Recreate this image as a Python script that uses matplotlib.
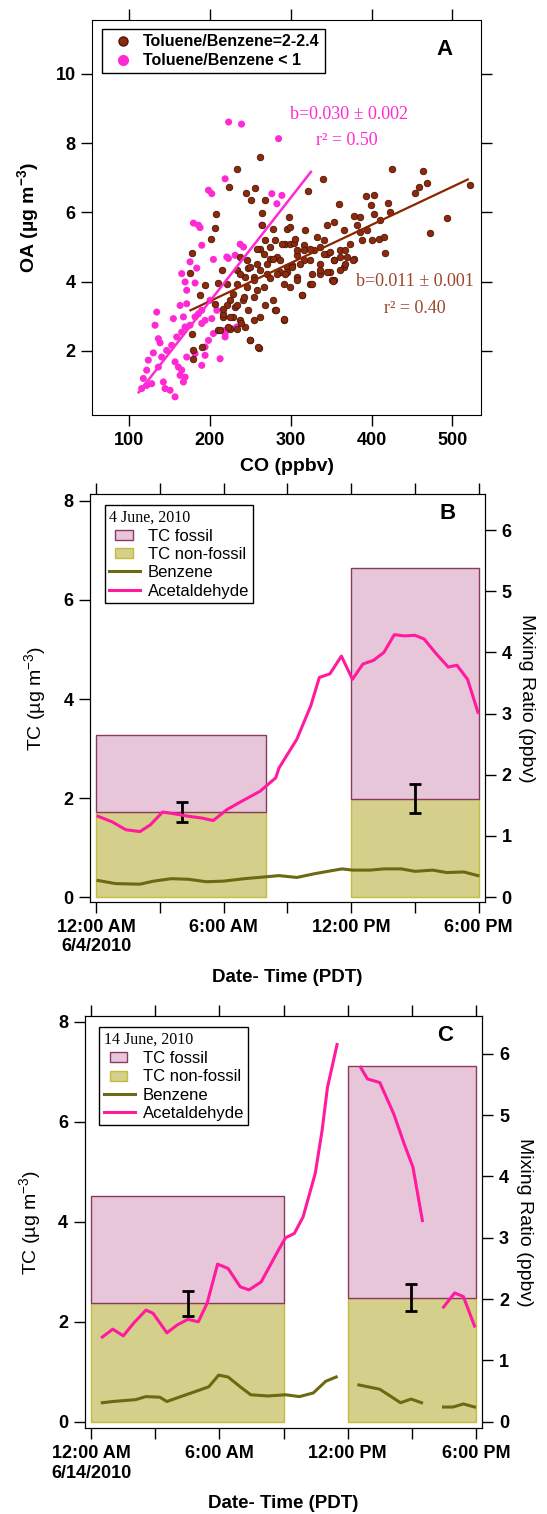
import matplotlib
matplotlib.use("Agg")
import matplotlib.pyplot as plt
from matplotlib.lines import Line2D
from matplotlib.patches import Patch, Rectangle
from matplotlib.legend_handler import HandlerPatch

plt.rcParams['font.family'] = ['Liberation Sans', 'DejaVu Sans']
plt.rcParams['mathtext.fontset'] = 'custom'
plt.rcParams['mathtext.rm'] = 'Liberation Sans'
plt.rcParams['mathtext.bf'] = 'Liberation Sans:bold'

nan = float('nan')

# ---- Panel A: OA vs CO ----
brown_co = [175.5, 194.1, 188.0, 210.6, 177.6, 179.6, 179.6, 190.0, 210.6, 206.5, 225.1, 216.8,
            262.2, 234.2, 224.3, 244.9, 256.0, 250.7, 267.6, 207.7, 264.3, 206.5, 201.1, 177.6,
            264.3, 278.7, 280.8, 295.3, 268.4, 262.2, 274.6, 282.9, 258.1, 247.8, 233.3, 243.7,
            254.0, 270.5, 287.0, 297.3, 293.2, 295.3,
            214.8, 221.0, 225.1, 216.8, 229.2, 237.5, 233.3, 223.0, 249.8, 260.2, 278.7, 280.8,
            291.1, 268.4, 254.0, 245.7, 237.5, 249.8, 262.2, 270.5, 278.7, 266.4, 258.1, 274.6,
            287.0, 295.3, 291.1, 301.4, 307.6, 313.8, 299.4, 324.1, 326.2, 315.9, 336.5, 336.5,
            344.8, 353.0, 361.3, 365.4, 353.0, 307.6, 299.4, 315.9, 289.1, 328.3, 348.9, 369.6,
            237.5, 245.7, 254.0, 258.1, 266.4, 241.6, 262.2, 247.8, 229.2, 233.3, 274.6, 282.9,
            293.2, 243.7, 254.0, 231.3, 221.0,
            425.3, 463.3, 339.4, 468.6, 458.3, 454.2, 320.8, 393.5, 402.6, 359.2, 419.9, 399.3,
            377.8, 386.1, 402.6, 423.2, 410.0, 318.0, 344.8, 353.0, 365.4, 381.9, 386.1, 388.1,
            400.5, 408.8, 415.0, 417.0, 493.4, 471.9, 303.5, 307.6, 315.9, 324.1, 336.5, 340.7,
            348.9, 353.0, 361.3, 367.5, 373.7, 377.8, 340.7, 332.4, 394.3, 324.1, 311.8, 301.4,
            336.5, 344.8, 351.0, 326.2, 307.6, 361.3, 367.5, 299.4, 305.6,
            521.3, 352.8, 314.0, 291.1, 259.1, 249.2, 377.5, 281.6, 212.4, 225.4, 216.7, 234.0,
            242.7, 238.3]
brown_oa = [4.25, 3.89, 3.60, 3.96, 2.50, 2.01, 1.77, 2.11, 2.59, 3.36, 2.64, 2.98,
            7.60, 7.26, 6.73, 6.57, 6.69, 6.37, 6.37, 5.96, 5.99, 5.56, 5.24, 4.83,
            5.63, 5.53, 5.19, 5.53, 5.21, 4.95, 4.66, 4.71, 4.52, 4.38, 4.33, 4.13,
            4.13, 4.23, 4.28, 5.87, 5.10, 4.42,
            4.33, 3.94, 3.46, 3.07, 2.98, 2.88, 2.64, 2.69, 2.30, 2.09, 3.46, 3.17,
            2.90, 3.32, 3.56, 3.84, 4.23, 4.42, 4.33, 4.52, 4.66, 4.81, 4.95, 5.00,
            4.62, 4.28, 3.94, 4.47, 4.13, 3.60, 3.85, 3.94, 4.23, 4.62, 4.52, 4.23,
            4.81, 4.62, 4.90, 4.42, 4.04, 4.76, 5.10, 5.05, 5.10, 4.90, 4.28, 4.71,
            4.71, 4.62, 4.04, 3.75, 3.85, 3.46, 2.98, 3.17, 3.65, 3.94, 4.09, 4.23,
            4.23, 2.69, 2.88, 3.27, 3.32,
            7.24, 7.20, 6.96, 6.85, 6.73, 6.56, 6.62, 6.47, 6.51, 6.23, 6.27, 6.22,
            5.89, 5.87, 5.96, 6.01, 5.77, 5.48, 5.63, 5.72, 5.50, 5.63, 5.43, 5.19,
            5.19, 5.24, 5.29, 4.83, 5.85, 5.41, 5.12, 4.91, 4.91, 4.95, 5.00, 4.81,
            4.86, 4.62, 4.71, 4.91, 5.10, 4.66, 5.19, 5.29, 5.50, 4.62, 4.52, 4.42,
            4.33, 4.28, 4.04, 3.94, 4.04, 4.33, 4.52, 5.58, 5.24,
            6.78, 4.01, 3.60, 2.91, 2.11, 2.32, 4.63, 3.17, 2.59, 2.98, 3.22, 3.32,
            3.56, 2.79]

pink_co = [134.3, 132.2, 136.3, 138.4, 130.1, 123.9, 121.9, 117.8, 115.7, 121.9, 128.1, 136.3,
           142.5, 144.6, 150.8, 157.0, 140.5, 146.6, 152.8, 159.0, 154.9, 163.2, 171.4, 167.3,
           169.4, 165.2, 175.5, 181.7, 185.9, 190.0, 194.1, 202.4, 204.4, 198.3, 194.1, 181.7,
           171.4, 161.1, 157.0, 165.2, 169.4, 167.3, 163.2, 190.0, 194.1, 212.7, 165.2, 169.4,
           181.7, 171.4, 190.0, 200.3, 218.9, 208.6,
           218.9, 198.3, 202.4, 179.7, 185.9, 187.9, 190.0, 175.5, 183.8, 204.4, 223.0, 231.3,
           237.5, 241.6, 264.3, 276.7, 289.1, 282.9, 285.0, 223.2, 239.2,
           221.0, 218.9, 218.9, 227.1, 233.3]
pink_oa = [3.12, 2.74, 2.35, 2.23, 1.94, 1.73, 1.44, 1.20, 0.91, 1.00, 1.05, 1.53,
           1.10, 0.91, 0.86, 0.67, 1.82, 2.01, 2.16, 2.40, 2.93, 3.31, 3.36, 2.98,
           2.69, 2.54, 2.74, 2.98, 3.07, 2.79, 2.88, 2.93, 2.50, 2.30, 2.11, 1.92,
           1.82, 1.53, 1.68, 1.44, 1.24, 1.10, 1.29, 1.58, 1.87, 1.77, 4.23, 3.99,
           3.96, 3.75, 3.17, 3.46, 2.50, 3.17,
           6.97, 6.64, 6.54, 5.69, 5.63, 5.56, 5.05, 4.57, 4.39, 4.64, 4.67, 4.76,
           5.08, 5.00, 5.63, 6.54, 6.49, 6.25, 8.13, 8.61, 8.55,
           4.71, 2.59, 2.40, 2.64, 2.69]

brown_fit_co = [176, 519]
brown_fit_oa = [3.17, 6.95]
pink_fit_co = [112, 325]
pink_fit_oa = [0.80, 7.17]

# ---- Panels B and C: hours since midnight ----
hour_ticks = [0, 6, 12, 18]
hour_minor = [3, 9, 15]

b_box_start = [0, 12]
b_box_end = [8, 18]
b_nonfossil = [1.72, 1.99]
b_total = [3.27, 6.65]
b_err_x = [4.05, 15.0]
b_err_lo = [1.52, 1.70]
b_err_hi = [1.93, 2.28]

b_acet_h = [0.08, 0.74, 1.39, 2.05, 2.54, 3.12, 3.69, 4.35, 5.0, 5.5, 6.15, 6.97, 7.71, 8.45,
            8.6, 9.44, 10.1, 10.5, 11.0, 11.54, 12.06, 12.55, 13.05, 13.54, 14.03, 14.52,
            15.0, 15.43, 16.0, 16.57, 16.98, 17.48, 17.97]
b_acet = [1.32, 1.23, 1.10, 1.07, 1.18, 1.39, 1.36, 1.32, 1.29, 1.25, 1.43, 1.59, 1.73, 1.95,
          2.11, 2.58, 3.13, 3.59, 3.65, 3.94, 3.56, 3.81, 3.87, 4.00, 4.29, 4.27,
          4.28, 4.22, 3.98, 3.76, 3.79, 3.56, 3.02]
b_benz_h = [0.08, 0.9, 2.05, 2.7, 3.53, 4.35, 5.17, 5.99, 6.97, 7.96, 8.6, 9.44, 10.26, 10.9,
            11.57, 12.06, 12.88, 13.54, 14.36, 15.0, 15.84, 16.5, 17.3, 17.97]
b_benz = [0.27, 0.22, 0.21, 0.26, 0.30, 0.29, 0.25, 0.26, 0.30, 0.33, 0.35, 0.32, 0.38, 0.42,
          0.46, 0.44, 0.44, 0.46, 0.46, 0.42, 0.44, 0.40, 0.41, 0.35]

c_box_start = [0, 12]
c_box_end = [9, 18]
c_nonfossil = [2.37, 2.48]
c_total = [4.51, 7.11]
c_err_x = [4.52, 14.96]
c_err_lo = [2.11, 2.21]
c_err_hi = [2.61, 2.76]

c_acet_h = [0.52, 1.01, 1.50, 1.99, 2.56, 2.89, 3.54, 4.03, 4.52, 5.01, 5.42, 5.91, 6.40, 6.97,
            7.38, 7.95, 8.76, 9.09, 9.50, 9.91, 10.48, 10.80, 11.05, 11.50, nan,
            12.6, 12.92, 13.5, 14.15, 14.64, 15.05, 15.49, nan,
            16.48, 17.0, 17.41, 17.93]
c_acet = [1.38, 1.51, 1.40, 1.61, 1.82, 1.77, 1.45, 1.58, 1.67, 1.63, 1.93, 2.57, 2.50, 2.20,
          2.15, 2.28, 2.80, 3.00, 3.07, 3.34, 4.05, 4.75, 5.45, 6.15, nan,
          5.78, 5.59, 5.53, 5.02, 4.53, 4.15, 3.28, nan,
          1.87, 2.10, 2.04, 1.56]
c_benz_h = [0.52, 1.01, 2.07, 2.56, 3.21, 3.54, 4.19, 4.85, 5.5, 5.96, 6.40, 6.97, 7.46, 8.27,
            9.09, 9.74, 10.39, 10.97, 11.46, nan,
            12.52, 13.5, 14.47, 14.96, 15.45, nan,
            16.48, 16.92, 17.41, 17.93]
c_benz = [0.31, 0.33, 0.36, 0.41, 0.40, 0.33, 0.41, 0.49, 0.57, 0.76, 0.73, 0.57, 0.44, 0.42,
          0.44, 0.41, 0.47, 0.66, 0.73, nan,
          0.60, 0.53, 0.31, 0.37, 0.31, nan,
          0.24, 0.24, 0.29, 0.24]

BROWN = '#8E2A0C'
PINK_A = '#FF2AD4'
PINK = '#FF1A9E'
OLIVE = '#6B6A12'
FOSSIL = '#E8C6D9'
NONFOSSIL = '#D5CF8C'

fig = plt.figure(figsize=(5.47, 15.14), dpi=100)


def style_ticks(ax):
    ax.tick_params(direction='out', length=8, width=1, labelsize=13, pad=4)
    for lab in ax.get_xticklabels() + ax.get_yticklabels():
        lab.set_fontweight('bold')


def small_box(legend, orig_handle, xdescent, ydescent, width, height, fontsize):
    # legend patches are drawn as small squares, like the original
    w = width * 0.55
    return Rectangle((width * 0.2 - xdescent, -ydescent + height * 0.05), w, height * 0.85)


# ---------------- Panel A ----------------
axA = fig.add_axes([0.169, 0.726, 0.711, 0.2606])
axA.scatter(pink_co, pink_oa, s=26, color=PINK_A, edgecolors='none', zorder=2)
axA.scatter(brown_co, brown_oa, s=22, color=BROWN, edgecolors='#4A1606', linewidths=0.6, zorder=3)
axA.plot(brown_fit_co, brown_fit_oa, color='#8B2500', lw=1.6, zorder=4)
axA.plot(pink_fit_co, pink_fit_oa, color=PINK_A, lw=1.8, zorder=5)
axA.set_xlim(54.8, 535.8)
axA.set_ylim(0.15, 11.55)
axA.set_xticks([100, 200, 300, 400, 500])
axA.set_yticks([2, 4, 6, 8, 10])
axA.tick_params(top=True, right=True)
style_ticks(axA)
axA.set_xlabel('CO (ppbv)', fontsize=14, fontweight='bold', labelpad=7)
axA.set_ylabel(r'OA (µg m$^{\mathbf{-3}}$)', fontsize=14, fontweight='bold', labelpad=10)
axA.text(0.905, 0.925, 'A', transform=axA.transAxes, fontsize=16, fontweight='bold',
         ha='center', va='center')
axA.text(372, 8.83, 'b=0.030 ± 0.002', color=PINK_A, fontsize=13,
         family='Liberation Serif', ha='center', va='center')
axA.text(369, 8.08, 'r² = 0.50', color=PINK_A, fontsize=13,
         family='Liberation Serif', ha='center', va='center')
axA.text(454, 3.99, 'b=0.011 ± 0.001', color='#99462A', fontsize=13,
         family='Liberation Serif', ha='center', va='center')
axA.text(453, 3.23, 'r² = 0.40', color='#99462A', fontsize=13,
         family='Liberation Serif', ha='center', va='center')
handlesA = [Line2D([], [], ls='none', marker='o', ms=6.5, color=BROWN, mec='#4A1606'),
            Line2D([], [], ls='none', marker='o', ms=7, color=PINK_A, mec=PINK_A)]
legA = axA.legend(handlesA, ['Toluene/Benzene=2-2.4', 'Toluene/Benzene < 1'],
                  loc='upper left', bbox_to_anchor=(0.024, 0.977), fancybox=False,
                  edgecolor='black', framealpha=1, borderaxespad=0, handletextpad=0.3,
                  borderpad=0.3, labelspacing=0.25, prop={'weight': 'bold', 'size': 11.5})
legA.get_frame().set_linewidth(1)


# ---------------- Panels B and C ----------------
def time_panel(rect, box_start, box_end, nonfossil, total, err_x, err_lo, err_hi,
               acet_h, acet, benz_h, benz, date_label, title, letter, ylim_left, ylim_right):
    ax = fig.add_axes(rect)
    widths = [e - s for s, e in zip(box_start, box_end)]
    fossil = [t - n for t, n in zip(total, nonfossil)]
    ax.bar(box_start, nonfossil, width=widths, align='edge', color=NONFOSSIL,
           edgecolor='#C4BC3C', lw=1, zorder=1)
    ax.bar(box_start, fossil, bottom=nonfossil, width=widths, align='edge', color=FOSSIL,
           edgecolor='#8A3A5C', lw=1, zorder=2)
    mid = [(lo + hi) / 2 for lo, hi in zip(err_lo, err_hi)]
    half = [(hi - lo) / 2 for lo, hi in zip(err_lo, err_hi)]
    ax.errorbar(err_x, mid, yerr=half, fmt='none', ecolor='black', elinewidth=2,
                capsize=4, capthick=2, zorder=5)
    ax.set_xlim(-0.3, 18.3)
    ax.set_ylim(*ylim_left)
    ax.set_yticks([0, 2, 4, 6, 8])
    ax.set_xticks(hour_ticks)
    ax.set_xticks(hour_minor, minor=True)
    ax.set_xticklabels(['12:00 AM\n' + date_label, '6:00 AM', '12:00 PM', '6:00 PM'])
    style_ticks(ax)
    ax.tick_params(which='both', top=True, direction='out', length=8, width=1)
    ax.set_ylabel(r'TC (µg m$^{-3}$)', fontsize=14, labelpad=10)
    ax.set_xlabel('Date- Time (PDT)', fontsize=13.5, fontweight='bold', labelpad=10)

    ax2 = ax.twinx()
    ax2.plot(benz_h, benz, color=OLIVE, lw=2.2, zorder=3)
    ax2.plot(acet_h, acet, color=PINK, lw=2.2, zorder=4)
    ax2.set_ylim(*ylim_right)
    ax2.set_yticks([0, 1, 2, 3, 4, 5, 6])
    style_ticks(ax2)
    ax2.set_ylabel('Mixing Ratio (ppbv)', fontsize=14, rotation=270, labelpad=17)

    ax2.text(0.905, 0.953, letter, transform=ax2.transAxes, fontsize=16,
             fontweight='bold', ha='center', va='center')
    handles = [Patch(facecolor=FOSSIL, edgecolor='#8A3A5C'),
               Patch(facecolor=NONFOSSIL, edgecolor='#C4BC3C'),
               Line2D([], [], color=OLIVE, lw=2.2),
               Line2D([], [], color=PINK, lw=2.2)]
    leg = ax2.legend(handles, ['TC fossil', 'TC non-fossil', 'Benzene', 'Acetaldehyde'],
                     title=title, alignment='left', loc='upper left',
                     bbox_to_anchor=(0.037, 0.973), fancybox=False, edgecolor='black',
                     framealpha=1, borderaxespad=0, handlelength=1.9, handletextpad=0.45,
                     borderpad=0.25, labelspacing=0.2, prop={'size': 12},
                     title_fontproperties={'family': 'Liberation Serif', 'size': 11.5},
                     handler_map={Patch: HandlerPatch(patch_func=small_box)})
    leg.get_frame().set_linewidth(1)
    return ax, ax2


time_panel([0.1645, 0.4042, 0.7221, 0.2695], b_box_start, b_box_end, b_nonfossil, b_total,
           b_err_x, b_err_lo, b_err_hi, b_acet_h, b_acet, b_benz_h, b_benz,
           '6/4/2010', '4 June, 2010', 'B', (-0.1, 8.14), (-0.082, 6.59))

time_panel([0.155, 0.0566, 0.727, 0.2721], c_box_start, c_box_end, c_nonfossil, c_total,
           c_err_x, c_err_lo, c_err_hi, c_acet_h, c_acet, c_benz_h, c_benz,
           '6/14/2010', '14 June, 2010', 'C', (-0.13, 8.11), (-0.107, 6.61))

fig.savefig('out.png', dpi=100)
